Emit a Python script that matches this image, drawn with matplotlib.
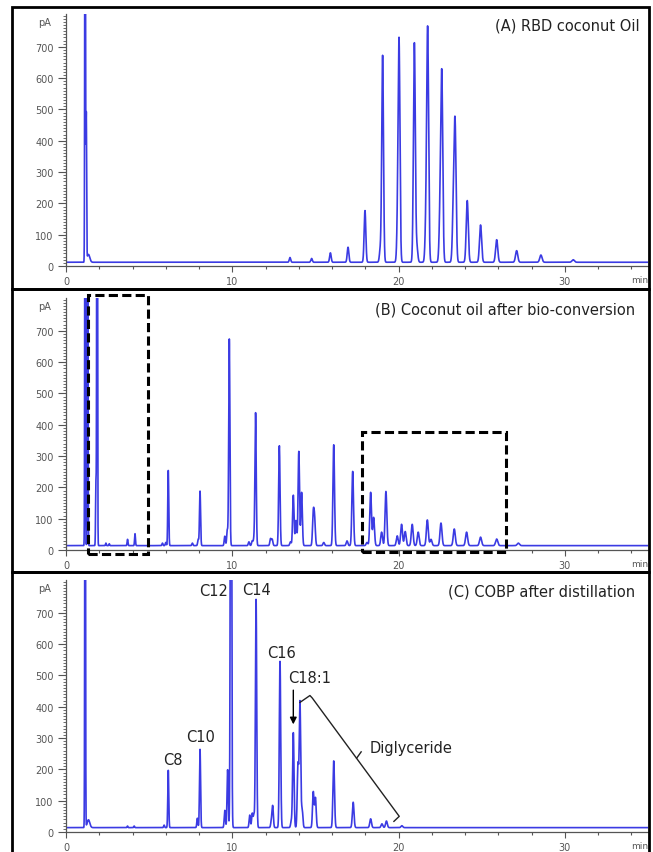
import matplotlib
matplotlib.use("Agg")
import matplotlib.pyplot as plt
from matplotlib.patches import Rectangle
from matplotlib.ticker import MultipleLocator
import numpy as np

# retention time (min) and peak height above baseline (pA)
rt_a = [1.15, 1.22, 1.35, 13.47, 14.77, 15.9, 16.96, 17.98, 18.9, 19.04, 19.95,
        20.03, 20.95, 21.1, 21.65, 21.75, 22.5, 22.6, 23.3, 23.4, 24.13, 24.93,
        25.9, 27.1, 28.56, 30.5]
h_a = [2000, 470, 25, 15, 12, 30, 48, 165, 40, 660, 120,
       676, 700, 48, 115, 729, 150, 580, 170, 417, 197, 119,
       72, 37, 23, 8]

rt_b = [1.15, 1.3, 1.8, 1.87, 2.4, 2.6, 3.7, 4.15, 5.8, 6.0, 6.15, 7.6, 7.95, 8.06,
        9.55, 9.7, 9.82, 11.0, 11.2, 11.3, 11.4, 12.3, 12.4, 12.83, 13.5, 13.67,
        13.83, 14.0, 14.17, 14.87, 14.95, 15.5, 16.1, 16.9, 17.24, 18.1, 18.32,
        18.5, 18.98, 19.24, 19.92, 20.18, 20.4, 20.82, 21.18, 21.73, 21.95, 22.55,
        23.35, 24.09, 24.93, 25.9, 27.2]
h_b = [2000, 1500, 200, 2000, 8, 6, 20, 38, 8, 10, 240, 8, 20, 174,
       30, 50, 660, 12, 15, 20, 424, 22, 20, 319, 12, 161,
       80, 301, 170, 99, 80, 10, 322, 15, 237, 10, 170,
       90, 43, 173, 31, 68, 45, 68, 43, 82, 20, 72,
       53, 43, 27, 21, 8]

rt_c = [1.15, 1.35, 3.7, 4.1, 5.9, 6.15, 7.9, 8.06, 9.55, 9.72, 9.92, 11.05,
        11.2, 11.3, 11.43, 12.35, 12.43, 12.87, 13.55, 13.67, 13.95, 14.07, 14.2,
        14.87, 15.0, 16.1, 17.27, 18.32, 19.0, 19.27, 20.2]
h_c = [2000, 25, 5, 5, 8, 183, 30, 250, 55, 185, 2000, 40,
       45, 40, 729, 20, 68, 531, 20, 303, 200, 401, 60,
       114, 95, 213, 81, 28, 12, 21, 6]

baseline = [12, 14, 14]
titles = ["(A) RBD coconut Oil", "(B) Coconut oil after bio-conversion",
          "(C) COBP after distillation"]

# labelled peaks in panel C
lab_names = ["C8", "C10", "C12", "C14", "C16", "C18:1"]
lab_x = [6.4, 8.1, 8.9, 11.45, 12.97, 14.65]
lab_y = [232, 304, 772, 776, 574, 495]

W, H = 653, 853
fig = plt.figure(figsize=(W / 100, H / 100), dpi=100)

blue = "#3b3be3"
gray = "#555555"
t = np.arange(0, 35.0005, 0.002)


def trace(rts, hs, base):
    y = np.full_like(t, float(base))
    for r, h in zip(rts, hs):
        s = 0.018 + 0.0018 * r
        if r < 1.5 and h < 100:
            s = 0.08
        y += h * np.exp(-0.5 * ((t - r) / s) ** 2)
    return y


# axes geometry in pixels: (y pixel of zero line)
zero_px = [267, 551, 833]
ax_h_px = 252
x0_px, x1_px = 66, 648

axes = []
for i, (rts, hs) in enumerate([(rt_a, h_a), (rt_b, h_b), (rt_c, h_c)]):
    ax = fig.add_axes([x0_px / W, 1 - zero_px[i] / H, (x1_px - x0_px) / W, ax_h_px / H])
    ax.plot(t, trace(rts, hs, baseline[i]), color=blue, lw=1.2)
    ax.set_xlim(0, 35)
    ax.set_ylim(0, 805)
    for sp in ["top", "right"]:
        ax.spines[sp].set_visible(False)
    for sp in ["left", "bottom"]:
        ax.spines[sp].set_color(gray)
        ax.spines[sp].set_linewidth(0.9)
    ax.set_yticks(range(0, 800, 100))
    ax.yaxis.set_minor_locator(MultipleLocator(10))
    ax.set_xticks([0, 10, 20, 30])
    ax.xaxis.set_minor_locator(MultipleLocator(2))
    ax.tick_params(axis="y", which="major", length=6, width=0.8, color=gray,
                   labelsize=7, labelcolor=gray, pad=3)
    ax.tick_params(axis="y", which="minor", length=2.5, width=0.6, color=gray)
    ax.tick_params(axis="x", which="major", length=4, width=0.8, color=gray,
                   labelsize=7, labelcolor=gray, pad=3)
    ax.tick_params(axis="x", which="minor", length=2, width=0.8, color=gray)
    ax.text(-0.9, 778, "pA", ha="right", va="center", fontsize=7, color=gray)
    ax.text(34.0, -42, "min", ha="left", va="center", fontsize=6.5, color=gray,
            clip_on=False)
    ax.text(34.5 if i == 0 else 34.2, 770, titles[i], ha="right", va="center",
            fontsize=10.5, color="#222222")
    axes.append(ax)

# dashed boxes in panel B
axb = axes[1]
for (xa, xb, ya, yb) in [(1.35, 4.96, -13, 816), (17.82, 26.44, -7, 378)]:
    axb.add_patch(Rectangle((xa, ya), xb - xa, yb - ya, fill=False, ec="black",
                            lw=2.2, ls=(0, (3, 1.4)), clip_on=False, zorder=5))

# annotations in panel C
axc = axes[2]
for name, x, y in zip(lab_names, lab_x, lab_y):
    axc.text(x, y, name, ha="center", va="center", fontsize=10.5, color="#222222")
axc.annotate("", xy=(13.67, 335), xytext=(13.67, 462),
             arrowprops=dict(arrowstyle="-|>", color="black", lw=1.0,
                             mutation_scale=10))
axc.plot([14.07, 14.67, 14.81, 20.04, 19.72], [414, 436, 428, 50, 34],
         color="#222222", lw=1.0, clip_on=False)
axc.plot([17.48, 17.75], [236, 256], color="#222222", lw=1.0)
axc.text(18.24, 270, "Diglyceride", ha="left", va="center", fontsize=10.5,
         color="#222222")

# panel frames
for (ya, yb) in [(8, 290), (290, 573), (573, 880)]:
    fig.add_artist(Rectangle((12 / W, 1 - yb / H), (649 - 12) / W, (yb - ya) / H,
                             transform=fig.transFigure, fill=False, ec="black",
                             lw=2.0))

fig.savefig("out.png", dpi=100)
